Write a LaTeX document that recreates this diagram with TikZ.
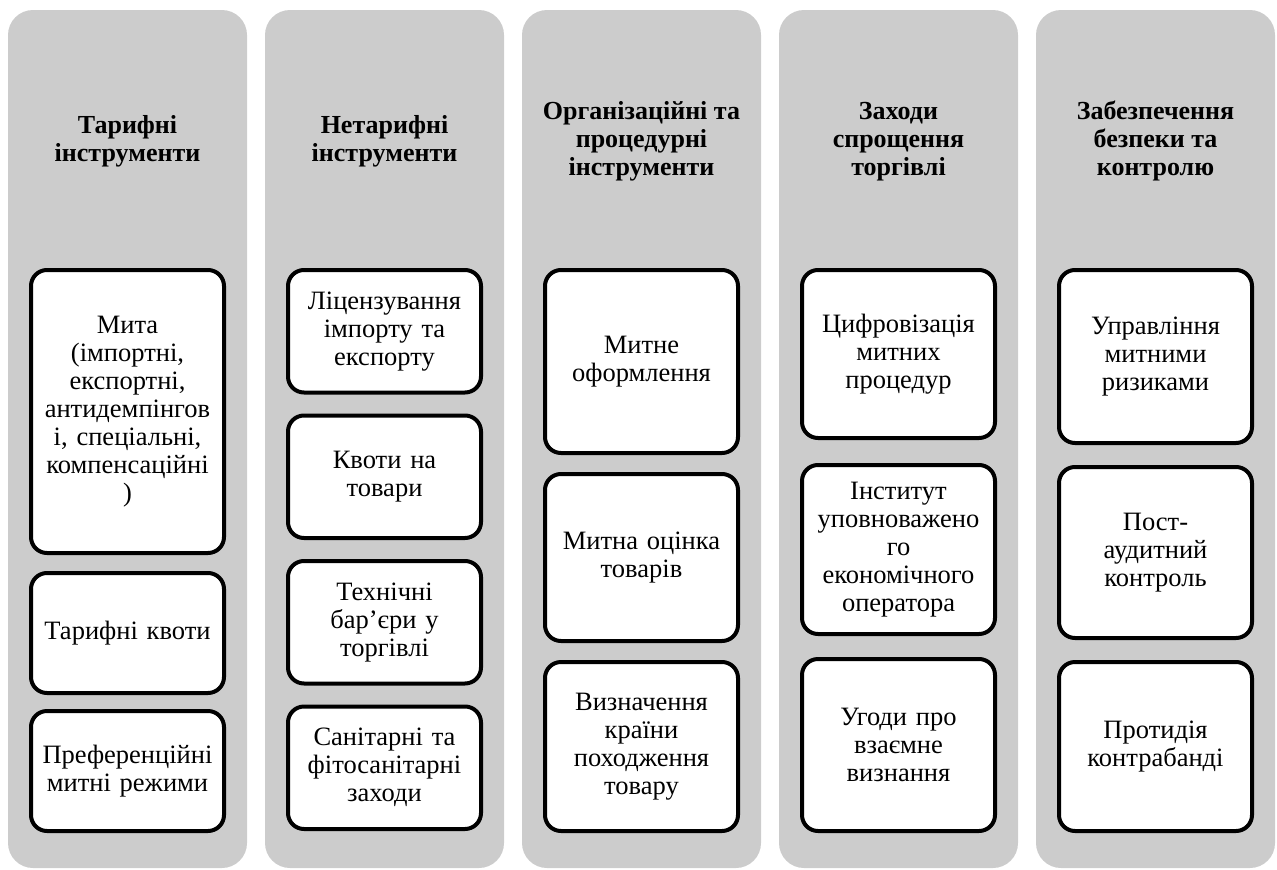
\documentclass[tikz,border=0pt]{standalone}
\usepackage{fontspec}
\setmainfont{Liberation Serif}
\begin{document}
\begin{tikzpicture}[x=1pt,y=-1pt,
  colbg/.style={fill=colgray, draw=none, rounded corners=25pt},
  head/.style={font=\fontsize{26}{28}\selectfont\bfseries, align=center, text=black},
  item/.style={draw=black, line width=4pt, fill=white, rounded corners=16pt, align=center,
    font=\fontsize{26.5}{28}\selectfont, minimum width=193pt, inner sep=0pt, text width=190pt}]
\definecolor{colgray}{HTML}{CCCCCC}
\useasboundingbox (0,0) rectangle (1277,870);
% columns
\foreach \L [count=\i] in {8,265,522,779,1036}{
  \path[colbg] (\L,10) rectangle ++(239,858);
}
% headers
\node[head] (h1) at (127.5,142) {\strut Тарифні\\інструменти\strut};
\node[head] (h2) at (384.5,142) {\strut Нетарифні\\інструменти\strut};
\node[head] (h3) at (641.5,142) {\strut Організаційні та\\процедурні\\інструменти\strut};
\node[head] (h4) at (898.5,142) {\strut Заходи\\спрощення\\торгівлі\strut};
\node[head] (h5) at (1155.5,142) {\strut Забезпечення\\безпеки та\\контролю\strut};
% column 1
\node[item, minimum height=283pt] (a1) at (127.5,411.5) {Мита\\(імпортні,\\експортні,\\антидемпінгов\\і, спеціальні,\\компенсаційні\\)};
\node[item, minimum height=120pt] (a2) at (127.5,633) {Тарифні квоти};
\node[item, minimum height=120pt] (a3) at (127.5,771) {Преференційні\\митні режими};
% column 2
\node[item, minimum height=122.5pt] (b1) at (384.5,331.25) {Ліцензування\\імпорту та\\експорту};
\node[item, minimum height=122.5pt] (b2) at (384.5,476.75) {Квоти на\\товари};
\node[item, minimum height=122.5pt] (b3) at (384.5,622.25) {Технічні\\бар’єри у\\торгівлі};
\node[item, minimum height=122.5pt] (b4) at (384.5,767.75) {Санітарні та\\фітосанітарні\\заходи};
% column 3
\node[item, minimum height=183pt] (c1) at (641.5,361.5) {Митне\\оформлення};
\node[item, minimum height=167pt] (c2) at (641.5,557.5) {Митна оцінка\\товарів};
\node[item, minimum height=169pt] (c3) at (641.5,746.5) {Визначення\\країни\\походження\\товару};
% column 4
\node[item, minimum height=168pt] (d1) at (898.5,354) {Цифровізація\\митних\\процедур};
\node[item, minimum height=169pt] (d2) at (898.5,549.5) {Інститут\\уповноважено\\го\\економічного\\оператора};
\node[item, minimum height=172pt] (d3) at (898.5,745) {Угоди про\\взаємне\\визнання};
% column 5
\node[item, minimum height=173pt] (e1) at (1155.5,356.5) {Управління\\митними\\ризиками};
\node[item, minimum height=171pt] (e2) at (1155.5,552.5) {Пост-\\аудитний\\контроль};
\node[item, minimum height=169pt] (e3) at (1155.5,746.5) {Протидія\\контрабанді};
\end{tikzpicture}
\end{document}
